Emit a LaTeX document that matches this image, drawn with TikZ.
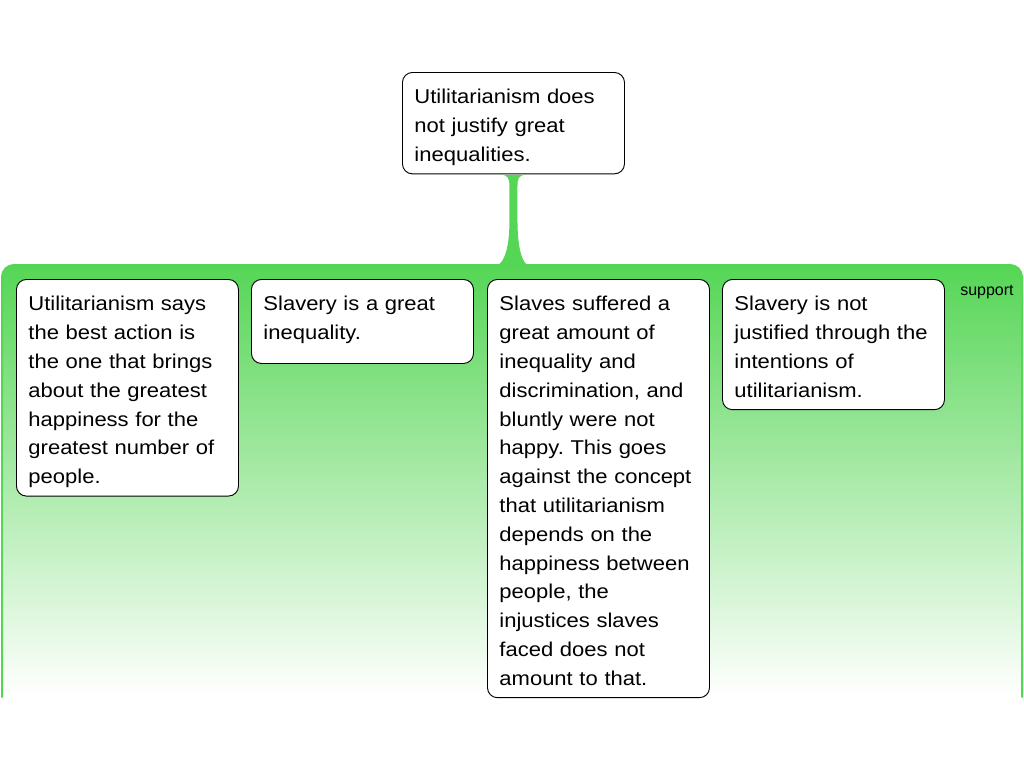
\documentclass[tikz,border=0pt]{standalone}
\usepackage{fontspec}
\setmainfont{Liberation Sans}
\newfontfamily\boxfont[FakeStretch=1.1]{Liberation Sans}
\usetikzlibrary{calc}
\frenchspacing
\newcommand{\linestrut}{\rule[-3.6pt]{0pt}{21.6pt}}
\definecolor{bandgreen}{RGB}{85,214,85}

\begin{document}
\begin{tikzpicture}[x=0.75pt,y=-0.75pt,line cap=round]
  % Styles
  \tikzset{
    argbox/.style={draw=black, line width=0.7pt, fill=white, rounded corners=7.5pt,
      anchor=north west, text width=148.5pt, inner xsep=9pt, inner ysep=5.625pt,
      align=left, font=\boxfont\fontsize{15}{21.6}\selectfont,
      execute at begin node=\linestrut, execute at end node=\linestrut},
    band/.style={line width=1.5pt, draw=bandgreen},
    label/.style={font=\fontsize{12}{14}\selectfont, inner sep=0pt, anchor=base west}
  }
  \useasboundingbox (0,0) rectangle (1024,768);

  % Support band
  \shade[top color=bandgreen, bottom color=white, rounded corners=9pt]
    (2,697) -- (2,265) -- (1022,265) -- (1022,697) -- cycle;
  \draw[band, rounded corners=9pt] (2,697) -- (2,265) -- (1022,265) -- (1022,697);
  \node[label] (support) at (960,295) {support};

  % Claim
  \node[argbox] (claim) at (402,72) {Utilitarianism does\\not justify great\\inequalities.};

  % Reasons
  \node[argbox] (best) at (16,279) {Utilitarianism says\\the best action is\\the one that brings\\about the greatest\\happiness for the\\greatest number of\\people.};
  \node[argbox, execute at end node={\rule[-12.15pt]{0pt}{0pt}}] (slavery) at (251,279)
    {Slavery is a great\\inequality.};
  \node[argbox] (slaves) at (487,279) {Slaves suffered a\\great amount of\\inequality and\\discrimination, and\\bluntly were not\\happy. This goes\\against the concept\\that utilitarianism\\depends on the\\happiness between\\people, the\\injustices slaves\\faced does not\\amount to that.};
  \node[argbox] (intent) at (722,279) {Slavery is not\\justified through the\\intentions of\\utilitarianism.};

  % Stem from claim to band
  \begin{scope}[shift={(claim.south)}]
    \fill[bandgreen] (-13,0.5) .. controls (-5,0.5) and (-4,4) .. (-4,13) -- (-4,45)
      .. controls (-4,82) and (-12,94) .. (-25,94) -- (22,94)
      .. controls (11,94) and (4,82) .. (4,45) -- (4,13)
      .. controls (4,4) and (5,0.5) .. (13,0.5) -- cycle;
  \end{scope}
\end{tikzpicture}
\end{document}
